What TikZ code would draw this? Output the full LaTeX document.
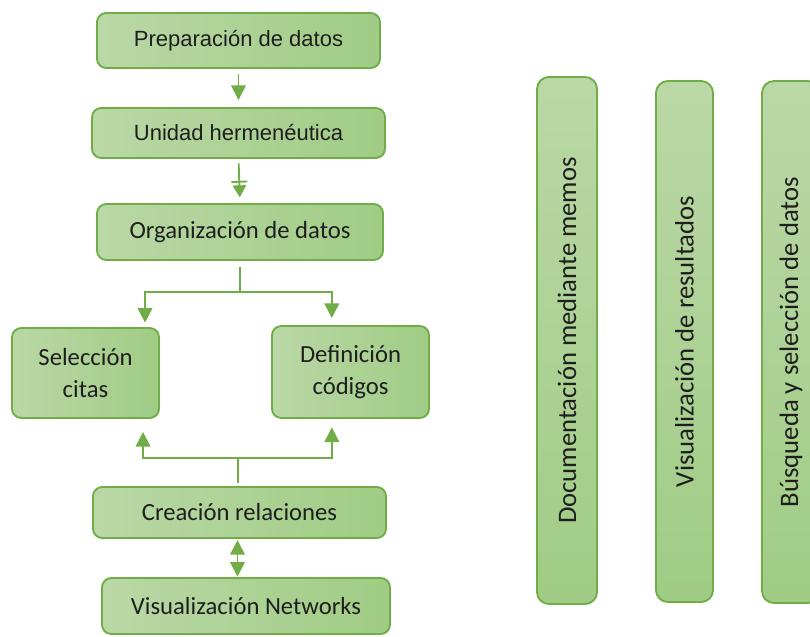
\documentclass[tikz,border=0pt]{standalone}
\usepackage{fontspec}
\setmainfont{Carlito}
\newfontfamily\arialfont{Liberation Sans}
\usetikzlibrary{arrows.meta}
\definecolor{gleft}{RGB}{186,216,166}
\definecolor{gright}{RGB}{160,204,133}
\definecolor{gline}{RGB}{112,173,71}
\definecolor{gtext}{RGB}{30,30,30}

\begin{document}
\begin{tikzpicture}[x=0.75pt, y=-0.75pt, >={Triangle[width=11pt,length=11pt]},
    box/.style={draw=gline, line width=1.4pt, left color=gleft, right color=gright,
                rounded corners=7pt, inner sep=0pt, outer sep=0pt,
                align=center, text=gtext,
                font=\fontsize{18.5}{24}\selectfont},
    abox/.style={box, font=\arialfont\fontsize{16.5}{20}\selectfont},
    vbox/.style={box, rounded corners=9pt, rotate=90,
                 top color=gleft, bottom color=gright,
                 font=\fontsize{20}{24}\selectfont},
    arr/.style={->, draw=gline, line width=1.4pt}]

  \useasboundingbox (0,0) rectangle (810,636);
  \clip (0,0) rectangle (810,636);

  %% -- Left column ------------------------------------------
  \node[abox, minimum width=212.3pt, minimum height=41.3pt] (prep) at (238.5,40.5)
    {Preparación de datos};
  \node[abox, minimum width=219.8pt, minimum height=37.5pt] (unid) at (238.5,133)
    {Unidad hermenéutica};
  \node[box, minimum width=214.5pt, minimum height=42pt] (org) at (240,232)
    {Organización de datos};

  \node[box, minimum width=110.3pt, minimum height=67.5pt] (sel) at (85.5,373)
    {Selección\\citas};
  \node[box, minimum width=117.8pt, minimum height=69pt] (def) at (350.5,372)
    {Definición\\códigos};

  \node[box, minimum width=219.8pt, minimum height=38.3pt] (crea) at (239.5,512.5)
    {Creación relaciones};
  \node[box, minimum width=216pt, minimum height=42pt] (net) at (246,606)
    {Visualización Networks};

  %% -- Arrows -------------------------------------------------
  \draw[arr, shorten <=4.5pt, shorten >=6pt] (prep.south) -- (unid.north);
  \draw[arr, -{Bar[width=12pt,sep=2pt]Triangle[width=10pt,length=9pt]},
        shorten <=4pt, shorten >=5pt] (unid.south) -- (org.north);

  % fork down to the two boxes
  \draw[arr, shorten <=5pt, shorten >=4pt] (org.south) -- ++(0,32) -| ([xshift=-10.5pt]sel.north east);
  \draw[arr, shorten <=5pt, shorten >=6pt] (org.south) -- ++(0,32) -| ([xshift=-14pt]def.north);

  % fork up from relations
  \draw[arr, shorten <=3pt, shorten >=10.5pt] ([xshift=-1pt]crea.north) -- ++(0,-29) -| ([xshift=-12pt]sel.south east);
  \draw[arr, shorten <=3pt, shorten >=7pt] ([xshift=-1pt]crea.north) -- ++(0,-29) -| ([xshift=-14pt]def.south);

  \draw[arr, <->, shorten <=1.5pt, shorten >=1pt] ([xshift=-1.5pt]crea.south) -- ([xshift=-1.5pt]crea.south |- net.north);

  %% -- Right column (vertical bars) ---------------------------
  \node[vbox, minimum width=395.3pt, minimum height=45pt] (memo) at (567,340.5)
    {Documentación mediante memos};
  \node[vbox, minimum width=390.8pt, minimum height=42.8pt] (res) at (684.5,341.5)
    {Visualización de resultados};
  \node[vbox, minimum width=391.5pt, minimum height=43.5pt] (busq) at (791,342)
    {Búsqueda y selección de datos};

\end{tikzpicture}
\end{document}
